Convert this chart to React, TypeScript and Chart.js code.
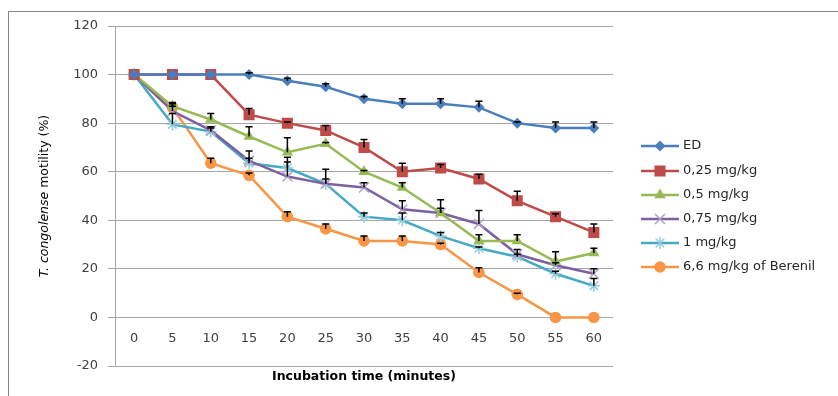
import React, { useEffect, useRef } from "react";
import { Chart, registerables } from "chart.js";

Chart.register(...registerables);

const categories = ["0", "5", "10", "15", "20", "25", "30", "35", "40", "45", "50", "55", "60"];

const seriesNames = ["ED", "0,25 mg/kg", "0,5 mg/kg", "0,75 mg/kg", "1 mg/kg", "6,6 mg/kg of Berenil"];

const edValues = [100, 100, 100, 100, 97.5, 95, 90, 88, 88, 86.5, 80, 78, 78];
const mg025Values = [100, 100, 100, 83.5, 80, 77, 70, 60, 61.5, 57, 48, 41.5, 35];
const mg05Values = [100, 87, 81.5, 74.5, 68, 71.5, 60, 53.5, 43, 31.5, 31.5, 23, 26.5];
const mg075Values = [100, 85, 77, 64.5, 58, 55, 53.5, 44.5, 43, 38.5, 26, 21.5, 18];
const mg1Values = [100, 79.5, 76.5, 63.5, 61.5, 55, 41.5, 40, 33.5, 28.5, 25, 18, 13];
const berenilValues = [100, 86.5, 63.5, 58.5, 41.5, 36.5, 31.5, 31.5, 30, 18.5, 9.5, 0, 0];

const edErrors = [0, 0, 0, 0.8, 1, 1.2, 1, 2, 2, 2.5, 0.5, 2.5, 2.5];
const mg025Errors = [0, 0, 0, 2.5, 0.5, 2, 3.3, 3.5, 1.5, 2, 4, 1.2, 3.5];
const mg05Errors = [0, 1.5, 2.5, 4, 6, 0.5, 0.5, 2, 5.5, 2.5, 2.5, 4, 2];
const mg075Errors = [0, 2, 1.5, 4, 6, 6, 2, 3.5, 2, 5.5, 2, 1, 2];
const mg1Errors = [0, 4.5, 1.5, 2, 4.5, 2, 1.5, 3, 1.5, 0.5, 1, 1, 3];
const berenilErrors = [0, 1.5, 2, 1, 2, 2, 2, 2, 0.5, 2, 0.5, 0, 0];

const yTicksMin = -20;
const yTicksMax = 120;
const yStep = 20;

const FONT = "'DejaVu Sans', sans-serif";

const styles = [
  { color: "#4A7EBB", marker: "rectRot", radius: 5.5, stroked: false },
  { color: "#BE4B48", marker: "rect", radius: 7.8, stroked: false },
  { color: "#98B954", marker: "triangle", radius: 6.5, stroked: false },
  { color: "#7D60A0", marker: "crossRot", radius: 7, markerColor: "#B3A2C7", stroked: true },
  { color: "#46AAC5", marker: "star", radius: 6, markerColor: "#93CDDD", stroked: true },
  { color: "#F79646", marker: "circle", radius: 5.8, stroked: false },
];

const allValues = [edValues, mg025Values, mg05Values, mg075Values, mg1Values, berenilValues];
const allErrors = [edErrors, mg025Errors, mg05Errors, mg075Errors, mg1Errors, berenilErrors];

function drawMarker(ctx: CanvasRenderingContext2D, style: string, x: number, y: number, r: number, fill: string, stroke: string) {
  ctx.save();
  ctx.beginPath();
  ctx.fillStyle = fill;
  ctx.strokeStyle = stroke;
  ctx.lineWidth = 1.5;
  if (style === "rectRot") {
    ctx.moveTo(x - r, y);
    ctx.lineTo(x, y - r);
    ctx.lineTo(x + r, y);
    ctx.lineTo(x, y + r);
    ctx.closePath();
    ctx.fill();
  } else if (style === "rect") {
    const s = Math.SQRT1_2 * r;
    ctx.rect(x - s, y - s, 2 * s, 2 * s);
    ctx.fill();
  } else if (style === "triangle") {
    for (let k = 0; k < 3; k++) {
      const a = (k * 2 * Math.PI) / 3;
      const px = x + Math.sin(a) * r;
      const py = y - Math.cos(a) * r;
      if (k === 0) ctx.moveTo(px, py);
      else ctx.lineTo(px, py);
    }
    ctx.closePath();
    ctx.fill();
  } else if (style === "crossRot") {
    const s = Math.SQRT1_2 * r;
    ctx.moveTo(x - s, y - s);
    ctx.lineTo(x + s, y + s);
    ctx.moveTo(x + s, y - s);
    ctx.lineTo(x - s, y + s);
    ctx.stroke();
  } else if (style === "star") {
    const s = Math.SQRT1_2 * r;
    ctx.moveTo(x - s, y - s);
    ctx.lineTo(x + s, y + s);
    ctx.moveTo(x + s, y - s);
    ctx.lineTo(x - s, y + s);
    ctx.moveTo(x, y - r);
    ctx.lineTo(x, y + r);
    ctx.stroke();
  } else {
    ctx.arc(x, y, r, 0, Math.PI * 2);
    ctx.fill();
  }
  ctx.restore();
}

const decorPlugin = {
  id: "decor",
  beforeDraw(chart: any) {
    const ctx = chart.ctx;
    ctx.save();
    ctx.fillStyle = "#ffffff";
    ctx.fillRect(0, 0, chart.width, chart.height);
    ctx.restore();
  },
  afterDatasetsDraw(chart: any) {
    const ctx = chart.ctx;
    const yScale = chart.scales.y;
    ctx.save();
    ctx.strokeStyle = "#000000";
    ctx.lineWidth = 1.5;
    allErrors.forEach((errs, di) => {
      const meta = chart.getDatasetMeta(di);
      errs.forEach((e, i) => {
        if (!e) return;
        const pt = meta.data[i];
        const top = yScale.getPixelForValue(allValues[di][i] + e);
        ctx.beginPath();
        ctx.moveTo(pt.x, pt.y);
        ctx.lineTo(pt.x, top);
        ctx.moveTo(pt.x - 3.5, top);
        ctx.lineTo(pt.x + 3.5, top);
        ctx.stroke();
      });
    });
    ctx.restore();
  },
  afterDraw(chart: any) {
    const ctx = chart.ctx;
    const xScale = chart.scales.x;
    const yScale = chart.scales.y;
    const area = chart.chartArea;
    ctx.save();
    ctx.strokeStyle = "#868686";
    ctx.lineWidth = 1;
    ctx.strokeRect(8.5, 11.5, chart.width + 10, chart.height + 10);

    const zeroY = yScale.getPixelForValue(0);
    ctx.fillStyle = "#404040";
    ctx.font = `13px ${FONT}`;
    ctx.textAlign = "center";
    ctx.textBaseline = "middle";
    categories.forEach((c, i) => {
      ctx.fillText(c, xScale.getPixelForValue(i), zeroY + 21);
    });

    ctx.fillStyle = "#000000";
    ctx.font = `bold 12.5px ${FONT}`;
    ctx.fillText("Incubation time (minutes)", (area.left + area.right) / 2, 377);

    ctx.save();
    ctx.translate(45, (area.top + area.bottom) / 2);
    ctx.rotate(-Math.PI / 2);
    const p1 = "T. congolense";
    const p2 = " motility (%)";
    ctx.font = `italic 12.5px ${FONT}`;
    const w1 = ctx.measureText(p1).width;
    ctx.font = `12.5px ${FONT}`;
    const w2 = ctx.measureText(p2).width;
    const start = -(w1 + w2) / 2;
    ctx.textAlign = "left";
    ctx.font = `italic 12.5px ${FONT}`;
    ctx.fillText(p1, start, 0);
    ctx.font = `12.5px ${FONT}`;
    ctx.fillText(p2, start + w1, 0);
    ctx.restore();

    const legendYs = [146, 171, 195, 219, 243, 267];
    seriesNames.forEach((name, i) => {
      const st = styles[i];
      const y = legendYs[i];
      ctx.strokeStyle = st.color;
      ctx.lineWidth = 2.5;
      ctx.beginPath();
      ctx.moveTo(641, y);
      ctx.lineTo(679, y);
      ctx.stroke();
      drawMarker(ctx, st.marker, 660, y, st.radius, st.color, st.markerColor || st.color);
      ctx.fillStyle = "#262626";
      ctx.font = `13px ${FONT}`;
      ctx.textAlign = "left";
      ctx.textBaseline = "middle";
      ctx.fillText(name, 683, y);
    });
    ctx.restore();
  },
};

export default function App() {
  const ref = useRef<HTMLCanvasElement | null>(null);
  useEffect(() => {
    if (!ref.current) return;
    const datasets = seriesNames.map((name, i) => ({
      label: name,
      data: allValues[i],
      borderColor: styles[i].color,
      backgroundColor: styles[i].color,
      pointBorderColor: styles[i].markerColor || styles[i].color,
      pointBackgroundColor: styles[i].color,
      pointStyle: styles[i].marker as any,
      pointRadius: styles[i].radius,
      pointBorderWidth: styles[i].stroked ? 1.5 : 0,
      borderWidth: 2.5,
      tension: 0,
    }));
    const chart = new Chart(ref.current, {
      type: "line",
      data: { labels: categories, datasets },
      options: {
        animation: false,
        responsive: false,
        events: [],
        layout: { padding: { left: 0, top: 26, right: 225, bottom: 0 } },
        plugins: { legend: { display: false }, tooltip: { enabled: false } },
        scales: {
          x: {
            type: "category",
            offset: true,
            grid: { display: false },
            border: { display: false },
            ticks: { display: false },
            afterFit: (s: any) => {
              s.height = 30;
            },
          },
          y: {
            min: yTicksMin,
            max: yTicksMax,
            ticks: {
              stepSize: yStep,
              color: "#404040",
              font: { family: FONT, size: 13 },
              padding: 10,
            },
            grid: { color: "#A6A6A6", lineWidth: 1, tickLength: 7 },
            border: { display: true, color: "#A6A6A6", width: 1 },
            afterFit: (s: any) => {
              s.width = 115;
            },
          },
        },
      },
      plugins: [decorPlugin],
    });
    return () => chart.destroy();
  }, []);
  return (
    <div style={{ position: "fixed", left: 0, top: 0, width: 838, height: 396 }}>
      <canvas ref={ref} width={838} height={396} />
    </div>
  );
}
